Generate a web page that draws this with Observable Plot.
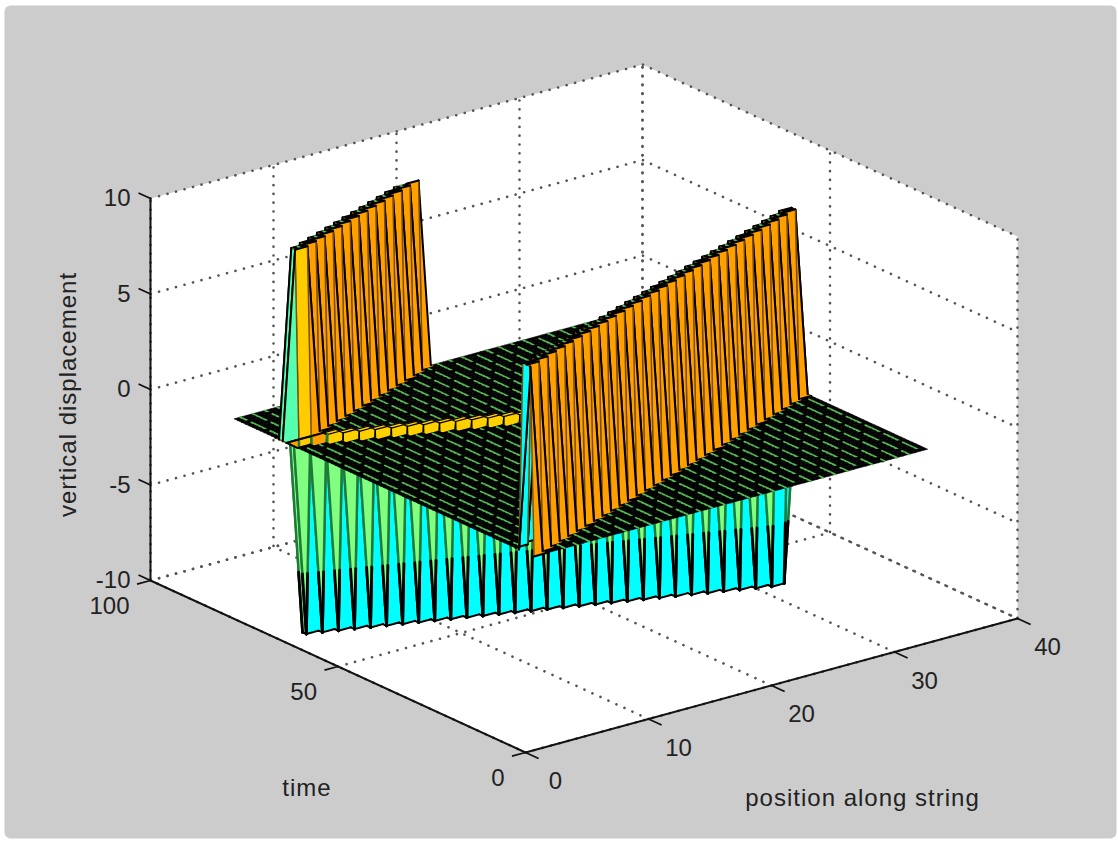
<!DOCTYPE html>
<html>
<head>
<meta charset="utf-8">
<script src="https://cdn.jsdelivr.net/npm/d3@7"></script>
<script src="https://cdn.jsdelivr.net/npm/@observablehq/plot@0.6"></script>
<style>
html,body{margin:0;padding:0;background:#fff;}
#chart svg{display:block;}
.lbl text{letter-spacing:1px;}
</style>
</head>
<body>
<div id="chart"></div>
<script>
// Axis ticks
const positionTicks=[0,10,20,30,40];
const timeTicks=[0,50,100];
const heightTicks=[-10,-5,0,5,10];
// Mesh lines of the surface
const positions=[1,2,3,4,5,6,7,8,9,10,11,12,13,14,15,16,17,18,19,20,21,22,23,24,25,26,27,28,29,30,31,32,33];
const times=[1,2,3,4,5,6,7,8,9,10,11,12,13,14,15,16,17,18,19,20,21,22,23,24,25,26,27,28,29,30,31,32,33,34,35,36,37,38,39,40,41,42,43,44,45,46,47,48,49,50,51,52,53,54,55,56,57,58,59,60,61,62,63,64,65,66,67,68,69,70,71,72,73,74,75,76,77,78,79,80,81];
// String sections displaced upward at each listed time
const crest=9.85;
const raisedTimes=[2,3,4,5,6,7,8,9,10,11,12,13,14,15,16,17,18,19,20,21,22,23,24,25,26,27,28,29,30,31,32,33,34,68,69,70,71,72,73,74,75,76,77,78,79,80,81];
const raisedFrom=[1,1,1,2,3,4,5,6,7,8,9,10,11,12,13,14,15,16,17,18,19,20,21,22,23,24,25,26,27,28,29,30,31,2,2,3,4,5,6,7,8,9,10,11,12,13,14];
const raisedTo=[1,2,3,4,5,6,7,8,9,10,11,12,13,14,15,16,17,18,19,20,21,22,23,24,25,26,27,28,29,30,31,32,32,3,4,5,6,7,8,9,10,11,12,13,14,15,16];
// String sections displaced downward at each listed time
const trough=-10;
const loweredTimes=[36,37,38,39,40,41,42,43,44,45,46,47,48,49,50,51,52,53,54,55,56,57,58,59,60,61,62,63,64,65,66];
const loweredFrom=[31,30,29,28,27,26,25,24,23,22,21,20,19,18,17,16,15,14,13,12,11,10,9,8,7,6,5,4,3,2,2];
const loweredTo=[32,32,31,30,29,28,27,26,25,24,23,22,21,20,19,18,17,16,15,14,13,12,11,10,9,8,7,6,5,4,3];
// Surface colours
const sheetGreen="#56b856", wallOrange="#ffa000", farYellow="#ffd000", gold="#ffcc00",
      backCyan="#00ffff", paleGreen="#80ff80", aqua="#55ffb0",
      wallBrown="#7a4d00", trenchGreen="#1f7a38";

// View of the 3-D box on the page
const view={ox:525,oy:752,px:12.3,py:-3.35,tx:-3.75,ty:-1.72,zy:-19.1};
const sx=(p,t)=>view.ox+view.px*p+view.tx*t;
const sy=(p,t,z)=>view.oy+view.py*p+view.ty*t+view.zy*(z+10);
const pt=(p,t,z)=>({x:sx(p,t),y:sy(p,t,z)});

// Height grid
const grid=new Map();
const key=(p,t)=>p+"|"+t;
raisedTimes.forEach((t,i)=>{for(let p=raisedFrom[i];p<=raisedTo[i];p++)grid.set(key(p,t),crest);});
loweredTimes.forEach((t,i)=>{for(let p=loweredFrom[i];p<=loweredTo[i];p++)grid.set(key(p,t),trough);});
const h=(p,t)=>grid.get(key(p,t))||0;

function cellColor(a,b,c,d,p){
  const dt=(c+d-a-b)/2, dp=(b+d-a-c)/2;
  if(dt>0&&dp<0) return wallOrange;
  if(dt>0&&dp>0) return a<0?(p<4?wallOrange:farYellow):aqua;
  if(dt>0) return gold;
  if(dt===0) return dp>0?aqua:paleGreen;
  if(dp>0) return backCyan;
  if(dp<0) return (a===b&&b===c)?paleGreen:backCyan;
  return backCyan;
}

// Far cells first so that nearer ones overlap them.
// Flat cells are black with a green streak down the column; wall cells get their mesh edges separately.
const cellPoints=[];
let id=0;
function edge(A,B,stroke,sw){
  [A,B].forEach(v=>cellPoints.push({x:v.x,y:v.y,id,fill:"none",stroke,sw}));
  id++;
}
function splitEdge(A,B,zA,zB){
  // the part toward the sheet is dark green, the part toward the trough floor is black
  if(zA===zB){edge(A,B,"#000",2);return;}
  const [U,L]=zA>zB?[A,B]:[B,A];
  const M={x:U.x+(L.x-U.x)*0.68,y:U.y+(L.y-U.y)*0.68};
  edge(U,M,trenchGreen,2.4);
  edge(M,L,"#000",2.8);
}
for(let j=times.length-2;j>=0;j--){
  for(let i=positions.length-2;i>=0;i--){
    const p=positions[i],q=positions[i+1],t=times[j],u=times[j+1];
    const a=h(p,t),b=h(q,t),c=h(p,u),d=h(q,u);
    const flat=a===b&&b===c&&c===d;
    const rim=flat&&a===0&&p>=4&&h(p-1,t)===trough;
    const fill=rim?farYellow:flat?"#000":cellColor(a,b,c,d,p);
    const A=pt(p,t,a),B=pt(q,t,b),C=pt(q,u,d),D=pt(p,u,c);
    for(const v of [A,B,C,D,A]) cellPoints.push({...v,id,fill,stroke:fill,sw:0.6});
    id++;
    if(rim||fill===farYellow){
      edge(B,C,"#000",1.2);edge(C,D,"#000",1.2);
      if(!rim){edge(A,B,"#000",1.2);edge(D,A,"#000",1.2);}
    } else if(flat){
      if((t+2*p)%5!==0){
        for(const tt of [t,u]) cellPoints.push({...pt((p+q)/2,tt,a),id,fill:"none",stroke:sheetGreen,sw:1.8});
        id++;
      }
    } else if(Math.min(a,b,c,d)<0){
      splitEdge(A,B,a,b);splitEdge(B,C,b,d);splitEdge(C,D,d,c);splitEdge(D,A,c,a);
    } else {
      edge(B,C,wallBrown,1.4);edge(D,A,wallBrown,1.4);
      edge(A,B,"#000",2);edge(C,D,"#000",2);
    }
  }
}

const pMax=40,tMax=100,zMin=-10,zMax=10;
const outline=[[0,tMax,zMin],[0,tMax,zMax],[pMax,tMax,zMax],[pMax,0,zMax],[pMax,0,zMin],[0,0,zMin],[0,tMax,zMin]]
  .map(([p,t,z])=>pt(p,t,z));

const dotted=[];
let g=0;
const add=(list)=>{list.forEach(([p,t,z])=>dotted.push({...pt(p,t,z),g}));g++;};
positionTicks.forEach(p=>add([[p,0,zMin],[p,tMax,zMin],[p,tMax,zMax]]));
timeTicks.forEach(t=>add([[0,t,zMin],[pMax,t,zMin],[pMax,t,zMax]]));
heightTicks.forEach(z=>add([[0,tMax,z],[pMax,tMax,z],[pMax,0,z]]));

const solid=[[0,tMax,zMax],[0,tMax,zMin],[0,0,zMin],[pMax,0,zMin]].map(([p,t,z])=>pt(p,t,z));
const ticks=[];
positionTicks.forEach(p=>ticks.push({a:pt(p,0,zMin),b:pt(p,-3.5,zMin)}));
timeTicks.forEach(t=>ticks.push({a:pt(0,t,zMin),b:pt(-1.1,t,zMin)}));
heightTicks.forEach(z=>ticks.push({a:pt(0,tMax,z),b:pt(0,tMax+3.2,z)}));

const font="Liberation Sans";
const ink="#222";
const chart=Plot.plot({
  width:1118,height:843,
  marginTop:0,marginRight:0,marginBottom:0,marginLeft:0,
  x:{domain:[0,1118],range:[0,1118],axis:null},
  y:{domain:[0,843],range:[0,843],axis:null},
  style:{background:"#fff"},
  marks:[
    Plot.frame({fill:"#cccccc",stroke:"none",insetLeft:4,insetTop:5,insetRight:2,insetBottom:5,rx:6}),
    Plot.line(outline,{x:"x",y:"y",fill:"#fff",stroke:"none"}),
    Plot.line(dotted,{x:"x",y:"y",z:"g",stroke:"#555",strokeWidth:2.6,strokeDasharray:"0.1,8.7",fill:"none"}),
    Plot.line(solid,{x:"x",y:"y",stroke:"#111",strokeWidth:2,fill:"none"}),
    Plot.link(ticks,{x1:d=>d.a.x,y1:d=>d.a.y,x2:d=>d.b.x,y2:d=>d.b.y,stroke:"#111",strokeWidth:1.8}),
    Plot.line(cellPoints,{x:"x",y:"y",z:"id",fill:d=>d.fill,stroke:d=>d.stroke,strokeWidth:d=>d.sw,strokeLinejoin:"round"}),
    Plot.text(positionTicks,{x:p=>sx(p,0),y:p=>sy(p,0,zMin),text:d=>String(d),dx:30,dy:29,fontFamily:font,fontSize:24,fill:ink}),
    Plot.text(timeTicks,{x:t=>sx(0,t),y:t=>sy(0,t,zMin),text:d=>String(d),dx:-21,dy:26,textAnchor:"end",fontFamily:font,fontSize:24,fill:ink}),
    Plot.text(heightTicks,{x:z=>sx(0,tMax),y:z=>sy(0,tMax,z),text:d=>String(d),dx:-20,dy:0,textAnchor:"end",fontFamily:font,fontSize:24,fill:ink}),
    Plot.text(["position along string"],{x:()=>sx(20,0),y:()=>sy(20,0,zMin),text:d=>d,dx:91,dy:113,fontFamily:font,fontSize:24,fill:ink,className:"lbl"}),
    Plot.text(["time"],{x:()=>sx(0,50),y:()=>sy(0,50,zMin),text:d=>d,dx:-31,dy:122,fontFamily:font,fontSize:24,fill:ink,className:"lbl"}),
    Plot.text(["vertical displacement"],{x:()=>sx(0,tMax),y:()=>sy(0,tMax,0),text:d=>d,dx:-82,dy:5,rotate:-90,fontFamily:font,fontSize:24,fill:ink,className:"lbl"})
  ]
});
document.getElementById("chart").appendChild(chart);
</script>
</body>
</html>
